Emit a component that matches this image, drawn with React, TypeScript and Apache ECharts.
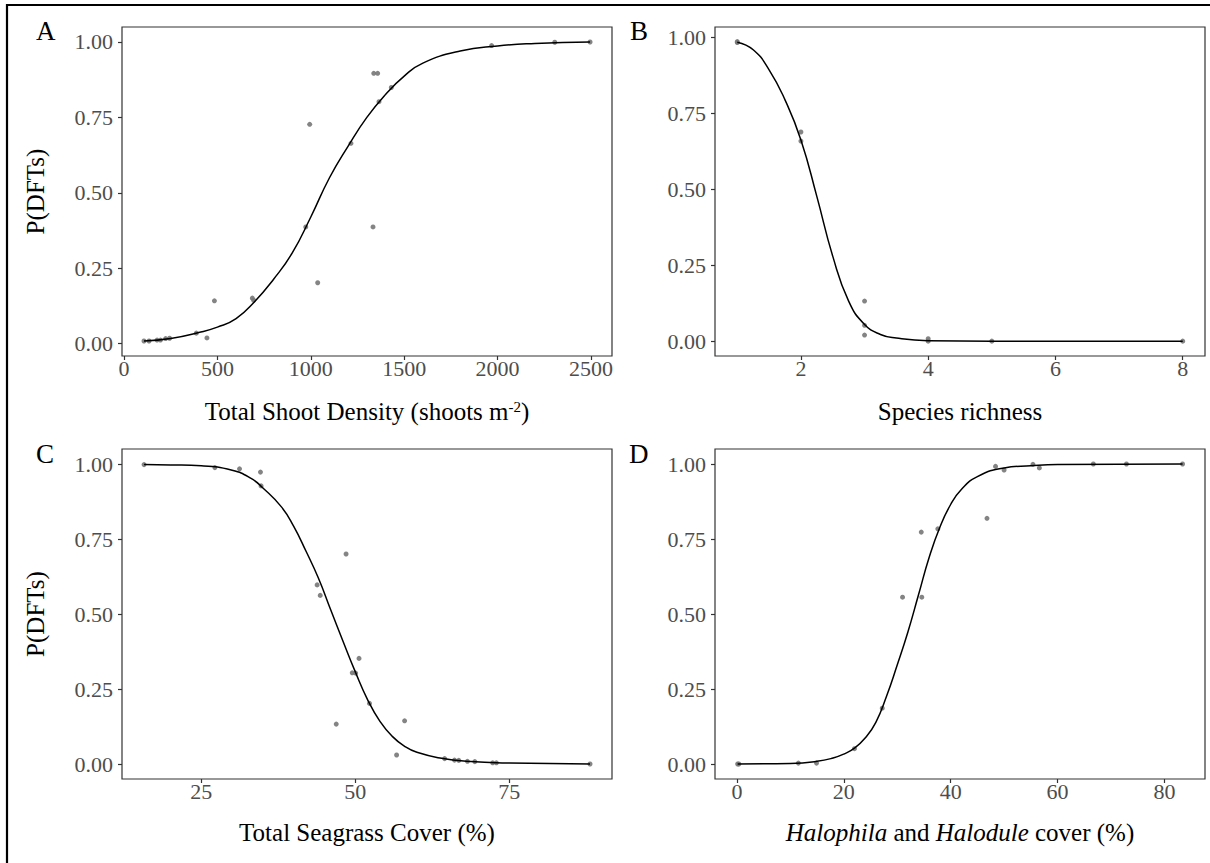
import React, { useEffect, useRef } from "react";
import * as echarts from "echarts";

// Panel A: Total shoot density
const densityX = [107, 134, 177, 195, 223, 244, 387, 444, 484, 687, 694, 973, 994, 1037, 1215, 1333, 1337, 1358, 1365, 1431, 1968, 2306, 2495];
const densityY = [0.009, 0.009, 0.012, 0.012, 0.017, 0.018, 0.035, 0.019, 0.142, 0.151, 0.144, 0.387, 0.727, 0.202, 0.664, 0.387, 0.896, 0.896, 0.802, 0.849, 0.988, 0.999, 1.0];
const densityFitX = [107, 250, 400, 500, 600, 700, 800, 900, 1000, 1100, 1200, 1300, 1400, 1500, 1600, 1800, 2000, 2200, 2495];
const densityFitY = [0.009, 0.017, 0.037, 0.055, 0.083, 0.14, 0.213, 0.3, 0.42, 0.55, 0.655, 0.75, 0.826, 0.887, 0.93, 0.97, 0.987, 0.995, 1.0];
const densityTicks = [0, 500, 1000, 1500, 2000, 2500];

// Panel B: Species richness
const richX = [1, 1, 2, 2, 3, 3, 3, 4, 4, 5, 8];
const richY = [0.987, 0.984, 0.689, 0.659, 0.132, 0.052, 0.02, 0.008, 0.0, 0.0, 0.0];
const richFitX = [1, 1.25, 1.5, 1.75, 2, 2.25, 2.5, 2.75, 3, 3.25, 3.5, 4, 5, 8];
const richFitY = [0.985, 0.96, 0.894, 0.795, 0.663, 0.477, 0.28, 0.132, 0.055, 0.022, 0.01, 0.0015, 0.0, 0.0];
const richTicks = [2, 4, 6, 8];

// Panel C: Total seagrass cover
const coverX = [15.7, 27.2, 31.2, 34.6, 34.7, 43.8, 44.3, 48.5, 46.9, 50.6, 49.5, 50.05, 52.3, 56.7, 58.0, 64.5, 66.1, 66.8, 68.2, 69.4, 72.3, 72.9, 88.1];
const coverY = [0.998, 0.988, 0.984, 0.973, 0.927, 0.597, 0.562, 0.7, 0.133, 0.352, 0.304, 0.303, 0.202, 0.03, 0.144, 0.018, 0.013, 0.012, 0.009, 0.008, 0.004, 0.004, 0.0];
const coverFitX = [15.7, 20, 25, 30, 33, 35, 38, 40, 42, 44, 46, 48, 50, 52, 54, 56, 58, 60, 64, 68, 75, 88.1];
const coverFitY = [0.998, 0.997, 0.994, 0.979, 0.953, 0.92, 0.857, 0.792, 0.709, 0.62, 0.514, 0.409, 0.307, 0.214, 0.142, 0.092, 0.059, 0.039, 0.019, 0.009, 0.003, 0.0003];
const coverTicks = [25, 50, 75];

// Panel D: Halophila and Halodule cover
const haloX = [0.14, 0.36, 11.5, 14.9, 22.0, 27.2, 31.0, 34.5, 34.6, 37.6, 46.8, 48.4, 50.0, 55.4, 56.6, 66.7, 72.9, 83.4];
const haloY = [0.0, 0.0, 0.003, 0.003, 0.051, 0.186, 0.556, 0.773, 0.556, 0.784, 0.819, 0.992, 0.98, 0.999, 0.987, 1.0, 1.0, 1.0];
const haloFitX = [0.14, 10, 15, 18, 20, 22, 24, 26, 28, 30, 32, 34, 36, 38, 40, 42, 45, 50, 55, 60, 83.4];
const haloFitY = [0.0, 0.002, 0.009, 0.02, 0.033, 0.053, 0.087, 0.139, 0.226, 0.33, 0.44, 0.565, 0.69, 0.79, 0.865, 0.915, 0.958, 0.987, 0.994, 0.998, 1.0];
const haloTicks = [0, 20, 40, 60, 80];

const probTicks = [0, 0.25, 0.5, 0.75, 1];
const panelLabels = ["A", "B", "C", "D"];

const FONT = "Liberation Serif";

const pairs = (xs: number[], ys: number[]) => xs.map((x, i) => [x, ys[i]]);

export default function App() {
  const ref = useRef<HTMLDivElement>(null);
  useEffect(() => {
    document.body.style.margin = "0";
    const chart = echarts.init(ref.current!, null, { renderer: "svg" });

    const grids = [
      { left: 122, top: 27, width: 490, height: 329 },
      { left: 715, top: 27, width: 490, height: 329 },
      { left: 122, top: 449, width: 490, height: 330 },
      { left: 715, top: 449, width: 490, height: 330 },
    ].map((g) => ({ ...g, show: true, borderColor: "#333", borderWidth: 1.2, containLabel: false }));

    const tickStyle = { show: true, inside: false, length: 4, lineStyle: { color: "#333", width: 1.2 } };
    const labelStyle = { fontSize: 22, color: "#4d4d4d", fontFamily: FONT };

    const makeX = (gi: number, min: number, max: number, ticks: number[], name: string, gap: number, rich?: any) => {
      const nameTextStyle: any = { fontSize: 25, color: "#000", fontFamily: FONT };
      if (rich) nameTextStyle.rich = rich;
      return {
        type: "value",
        gridIndex: gi,
        min,
        max,
        position: "bottom",
        axisLine: { show: false, onZero: false },
        axisTick: { ...tickStyle, customValues: ticks },
        axisLabel: { ...labelStyle, margin: 1, customValues: ticks, formatter: (v: number) => String(v) },
        splitLine: { show: false },
        name,
        nameLocation: "middle",
        nameGap: gap,
        nameTextStyle,
      };
    };

    const makeY = (gi: number, min: number, max: number, showName: boolean) => ({
      type: "value",
      gridIndex: gi,
      min,
      max,
      position: "left",
      axisLine: { show: false, onZero: false },
      axisTick: { ...tickStyle, customValues: probTicks },
      axisLabel: { ...labelStyle, margin: 9, customValues: probTicks, formatter: (v: number) => v.toFixed(2) },
      splitLine: { show: false },
      name: showName ? "P(DFTs)" : "",
      nameLocation: "middle",
      nameGap: 74,
      nameRotate: 90,
      nameTextStyle: { fontSize: 25, color: "#000", fontFamily: FONT },
    });

    const xAxes = [
      makeX(0, -10.7, 2612.4, densityTicks, "Total Shoot Density (shoots m{sup|-2})", 43, {
        sup: { fontSize: 15, verticalAlign: "top", color: "#000", fontFamily: FONT },
      }),
      makeX(1, 0.65, 8.35, richTicks, "Species richness", 43),
      makeX(2, 12.12, 91.67, coverTicks, "Total Seagrass Cover (%)", 41),
      makeX(3, -4.1, 87.6, haloTicks, "{i|Halophila} and {i|Halodule} cover (%)", 41, {
        i: { fontStyle: "italic", fontSize: 25, color: "#000", fontFamily: FONT },
      }),
    ];
    const yAxes = [
      makeY(0, -0.0408, 1.0496, true),
      makeY(1, -0.049, 1.035, false),
      makeY(2, -0.05, 1.05, true),
      makeY(3, -0.05, 1.05, false),
    ];

    const sets = [
      [densityX, densityY, densityFitX, densityFitY],
      [richX, richY, richFitX, richFitY],
      [coverX, coverY, coverFitX, coverFitY],
      [haloX, haloY, haloFitX, haloFitY],
    ];
    const series: any[] = [];
    sets.forEach(([px, py, fx, fy], i) => {
      series.push({
        type: "scatter",
        xAxisIndex: i,
        yAxisIndex: i,
        data: pairs(px, py),
        symbolSize: 5,
        itemStyle: { color: "#777", opacity: 0.9 },
        z: 2,
      });
      series.push({
        type: "line",
        xAxisIndex: i,
        yAxisIndex: i,
        data: pairs(fx, fy),
        showSymbol: false,
        smooth: 0.5,
        lineStyle: { color: "#000", width: 1.5 },
        z: 3,
      });
    });

    const labelPos = [
      [36, 31],
      [630, 31],
      [36, 454],
      [629, 454],
    ];
    const graphic: any[] = panelLabels.map((t, i) => ({
      type: "text",
      x: labelPos[i][0],
      y: labelPos[i][1],
      style: { text: t, fontSize: 27, fontFamily: FONT, fill: "#000", verticalAlign: "middle", align: "left" },
    }));
    graphic.push({ type: "line", shape: { x1: 6, y1: 5, x2: 1210, y2: 5 }, style: { stroke: "#000", lineWidth: 2.2 } });
    graphic.push({ type: "line", shape: { x1: 7, y1: 4, x2: 7, y2: 863 }, style: { stroke: "#000", lineWidth: 2.2 } });

    chart.setOption({
      animation: false,
      backgroundColor: "#fff",
      grid: grids,
      xAxis: xAxes,
      yAxis: yAxes,
      series,
      graphic,
    });
    return () => chart.dispose();
  }, []);
  return <div ref={ref} style={{ width: 1210, height: 863 }} />;
}
